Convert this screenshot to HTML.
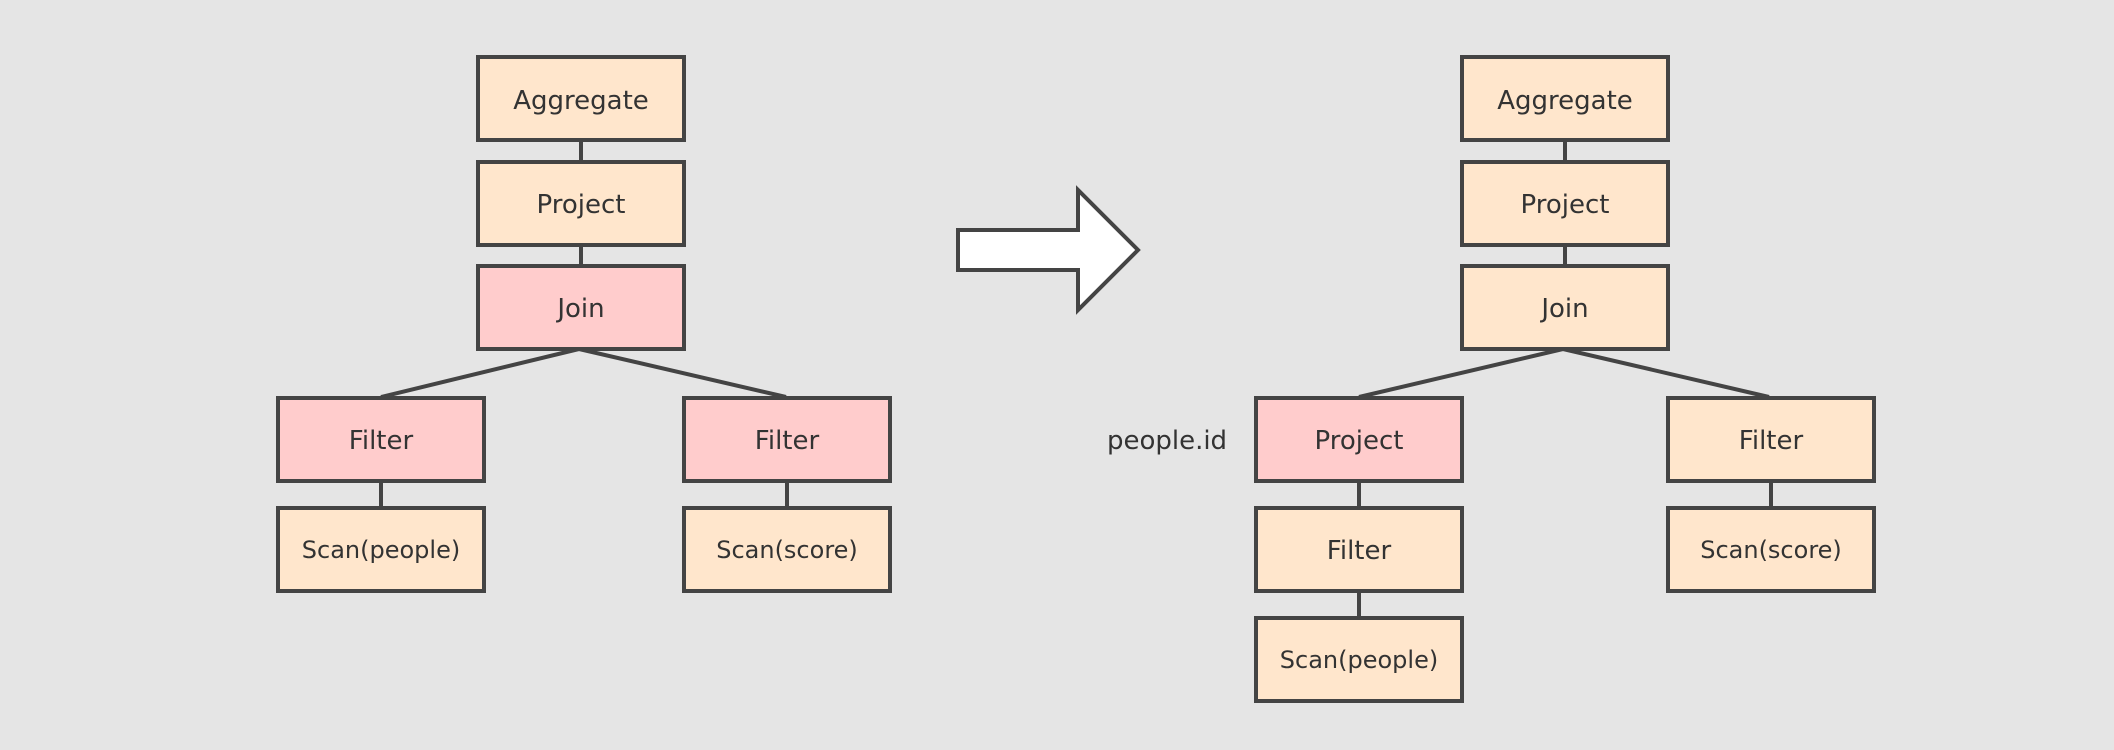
<!DOCTYPE html>
<html><head><meta charset="utf-8"><style>
html,body{margin:0;padding:0;background:#e5e5e5;}
svg{display:block}
text{font-family:"DejaVu Sans","Liberation Sans",sans-serif;fill:#333;text-anchor:middle;dominant-baseline:central}
</style></head><body>
<svg width="2114" height="750" viewBox="0 0 2114 750">
<rect width="2114" height="750" fill="#e5e5e5"/>
<g stroke="#444" stroke-width="4" fill="none">
<line x1="581" y1="140" x2="581" y2="162"/>
<line x1="581" y1="245" x2="581" y2="266"/>
<line x1="579" y1="349" x2="381" y2="397"/>
<line x1="579" y1="349" x2="786" y2="397"/>
<line x1="381" y1="481" x2="381" y2="507"/>
<line x1="787" y1="481" x2="787" y2="507"/>
<line x1="1565" y1="140" x2="1565" y2="162"/>
<line x1="1565" y1="245" x2="1565" y2="266"/>
<line x1="1563" y1="349" x2="1359" y2="397"/>
<line x1="1563" y1="349" x2="1769" y2="397"/>
<line x1="1359" y1="481" x2="1359" y2="507"/>
<line x1="1359" y1="590" x2="1359" y2="617"/>
<line x1="1771" y1="481" x2="1771" y2="507"/>
</g>
<g stroke="#444" stroke-width="4">
<rect x="478" y="57" width="206" height="83" fill="#ffe6cc"/>
<rect x="478" y="162" width="206" height="83" fill="#ffe6cc"/>
<rect x="478" y="266" width="206" height="83" fill="#ffcccc"/>
<rect x="278" y="398" width="206" height="83" fill="#ffcccc"/>
<rect x="278" y="508" width="206" height="83" fill="#ffe6cc"/>
<rect x="684" y="398" width="206" height="83" fill="#ffcccc"/>
<rect x="684" y="508" width="206" height="83" fill="#ffe6cc"/>
<rect x="1462" y="57" width="206" height="83" fill="#ffe6cc"/>
<rect x="1462" y="162" width="206" height="83" fill="#ffe6cc"/>
<rect x="1462" y="266" width="206" height="83" fill="#ffe6cc"/>
<rect x="1256" y="398" width="206" height="83" fill="#ffcccc"/>
<rect x="1256" y="508" width="206" height="83" fill="#ffe6cc"/>
<rect x="1256" y="618" width="206" height="83" fill="#ffe6cc"/>
<rect x="1668" y="398" width="206" height="83" fill="#ffe6cc"/>
<rect x="1668" y="508" width="206" height="83" fill="#ffe6cc"/>
<polygon points="958,230 1078,230 1078,190 1138,250 1078,310 1078,270 958,270" fill="#fff" stroke-linejoin="miter"/>
</g>
<g font-size="26">
<text x="581" y="101">Aggregate</text>
<text x="581" y="205">Project</text>
<text x="581" y="309">Join</text>
<text x="381" y="441">Filter</text>
<text x="787" y="441">Filter</text>
<text x="1565" y="101">Aggregate</text>
<text x="1565" y="205">Project</text>
<text x="1565" y="309">Join</text>
<text x="1359" y="441">Project</text>
<text x="1359" y="551">Filter</text>
<text x="1771" y="441">Filter</text>
<text x="1167" y="441">people.id</text>
</g>
<g font-size="24">
<text x="381" y="550">Scan(people)</text>
<text x="787" y="550">Scan(score)</text>
<text x="1359" y="660">Scan(people)</text>
<text x="1771" y="550">Scan(score)</text>
</g>
</svg>
</body></html>
